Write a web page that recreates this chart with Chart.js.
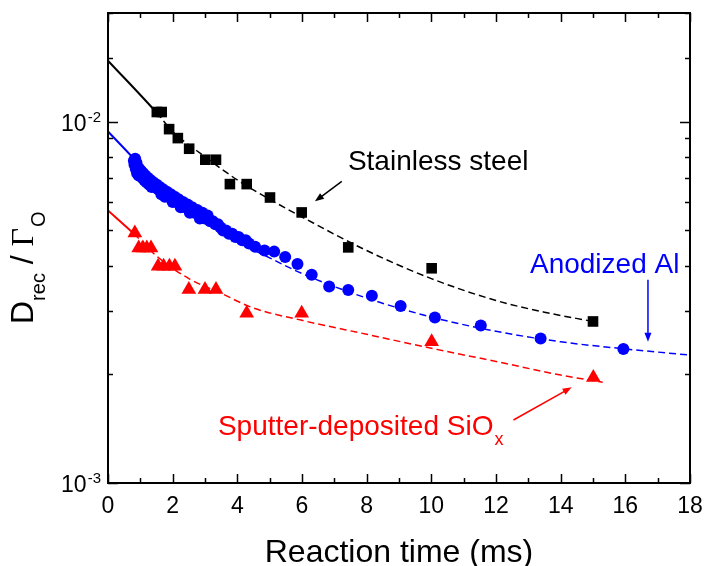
<!DOCTYPE html>
<html>
<head>
<meta charset="utf-8">
<script src="https://cdn.jsdelivr.net/npm/chart.js@4.4.1/dist/chart.umd.min.js"></script>
<style>
  html, body { margin: 0; padding: 0; background: #fff; }
  #wrap { width: 705px; height: 566px; }
</style>
</head>
<body>
<div id="wrap"><canvas id="graphCanvas" width="705" height="566"></canvas></div>
<script>
const ctx = document.getElementById('graphCanvas').getContext('2d');

// Stainless steel, measured points
const steelTime  = [1.51, 1.66, 1.89, 2.16, 2.51, 3.01, 3.34, 3.77, 4.29, 5.01, 5.99, 7.43, 10.01, 15.0];
const steelValue = [0.01064, 0.01064, 0.00954, 0.00901, 0.00842, 0.00785, 0.00785, 0.00672, 0.00672, 0.00617, 0.00561, 0.00449, 0.00393, 0.0028];

// Anodized Al, measured points (dense run first, then the sparse tail)
const alTime = [0.80, 0.82, 0.84, 0.86, 0.88, 0.90, 0.92, 0.95, 0.97, 1.00, 1.03, 1.06, 1.09, 1.12, 1.15,
  1.19, 1.23, 1.27, 1.31, 1.35, 1.40, 1.45, 1.50, 1.55, 1.60, 1.65, 1.70, 1.76, 1.82, 1.88,
  1.94, 2.00, 2.06, 2.12, 2.18, 2.25, 2.32, 2.39, 2.46, 2.53, 2.60, 2.68, 2.76, 2.84, 2.92,
  3.00, 3.08, 3.16, 3.24, 3.32, 3.40, 3.48, 3.56, 3.65, 3.74, 3.84, 3.94, 4.04, 4.15, 4.26, 4.36,
  4.55, 4.84, 5.14, 5.48, 5.86, 6.30, 6.84, 7.43, 8.16, 9.05, 10.11, 11.53, 13.38, 15.94];
const alValue = [0.0078, 0.0076, 0.0079, 0.0074, 0.0077, 0.0072, 0.0075, 0.0071, 0.0074, 0.0071, 0.0073, 0.0070, 0.0072, 0.0069, 0.0071,
  0.0068, 0.0070, 0.0067, 0.0069, 0.0066, 0.0068, 0.0066, 0.0067, 0.0065, 0.0066, 0.0063, 0.0065, 0.0062, 0.0064, 0.0062,
  0.0063, 0.0060, 0.0062, 0.0060, 0.0061, 0.0058, 0.0060, 0.0058, 0.0059, 0.0056, 0.0058, 0.0056, 0.0057, 0.0054, 0.0056,
  0.0054, 0.0055, 0.0053, 0.0053, 0.0052, 0.0052, 0.0051, 0.0050, 0.0050, 0.0049, 0.0049, 0.0048, 0.0048, 0.0047, 0.0047, 0.0046,
  0.00451, 0.0044, 0.00437, 0.00422, 0.00404, 0.00377, 0.0035, 0.00342, 0.0033, 0.00309, 0.00287, 0.00273, 0.00251, 0.00235];

// Sputter-deposited SiOx, measured points
const sioTime  = [0.83, 0.95, 1.08, 1.20, 1.33, 1.55, 1.72, 1.90, 2.07, 2.50, 3.00, 3.34, 4.29, 5.99, 10.01, 15.01];
const sioValue = [0.00492, 0.00447, 0.00447, 0.00447, 0.00447, 0.00398, 0.00398, 0.00398, 0.00398, 0.00343, 0.00343, 0.00343, 0.00295, 0.00295, 0.00246, 0.00196];

// fitted curves (first segment drawn solid, rest dashed)
const steelFitTime  = [0, 1.5, 2, 3, 4, 5, 6, 8, 10, 12, 13.5, 15];
const steelFitValue = [0.01476, 0.0106, 0.0094, 0.0080, 0.0069, 0.0061, 0.00545, 0.0044, 0.00368, 0.0032, 0.00297, 0.0028];
const alFitTime  = [0, 0.8, 1.5, 2, 3, 4, 5, 6, 8, 10, 12, 14, 16, 18];
const alFitValue = [0.0094, 0.0079, 0.0067, 0.0061, 0.0053, 0.00466, 0.0042, 0.0038, 0.00325, 0.00288, 0.00263, 0.00246, 0.00235, 0.00226];
const sioFitTime  = [0, 0.8, 1.5, 2.5, 3.5, 4.5, 6, 8, 10, 12, 14, 15.3];
const sioFitValue = [0.00568, 0.0049, 0.00425, 0.00368, 0.00335, 0.00305, 0.00282, 0.00258, 0.00236, 0.00217, 0.00199, 0.0019];

// axis range
const xMin = 0, xMax = 18;
const yMin = 0.001, yMax = 0.02;

// annotations in data coordinates
const noteLabels = [
  { text: 'Stainless steel', sub: '', at: [7.42, 0.00785], color: '#000000' },
  { text: 'Anodized Al', sub: '', at: [13.05, 0.00407], color: '#0000ff' },
  { text: 'Sputter-deposited SiO', sub: 'x', at: [3.40, 0.001447], color: '#ff0000' }
];
const noteArrows = [
  { from: [7.23, 0.00684], to: [6.40, 0.00602], color: '#000000' },
  { from: [16.7, 0.00365], to: [16.7, 0.00246], color: '#0000ff' },
  { from: [12.54, 0.001494], to: [14.34, 0.00184], color: '#ff0000' }
];

const SANS = '"Liberation Sans", Arial, sans-serif';
const SERIF = '"Liberation Serif", "Times New Roman", serif';

const pts = (xs, ys) => xs.map((x, i) => ({ x: x, y: ys[i] }));
const dashAfterFirst = c => c.p0DataIndex === 0 ? [] : [7, 4];
const widthAfterFirst = c => c.p0DataIndex === 0 ? 2 : 1.5;

function isDecade(v) {
  const l = Math.log10(v);
  return Math.abs(l - Math.round(l)) < 1e-6;
}

function arrow(c, x0, y0, x1, y1, color) {
  const ang = Math.atan2(y1 - y0, x1 - x0);
  const hl = 9, hw = 3.5;
  c.strokeStyle = color;
  c.fillStyle = color;
  c.lineWidth = 1.5;
  c.beginPath();
  c.moveTo(x0, y0);
  c.lineTo(x1 - Math.cos(ang) * hl * 0.8, y1 - Math.sin(ang) * hl * 0.8);
  c.stroke();
  c.beginPath();
  c.moveTo(x1, y1);
  c.lineTo(x1 - Math.cos(ang) * hl - Math.sin(ang) * hw, y1 - Math.sin(ang) * hl + Math.cos(ang) * hw);
  c.lineTo(x1 - Math.cos(ang) * hl + Math.sin(ang) * hw, y1 - Math.sin(ang) * hl - Math.cos(ang) * hw);
  c.closePath();
  c.fill();
}

const framePlugin = {
  id: 'frame',
  beforeDraw(chart) {
    const c = chart.ctx;
    c.save();
    c.fillStyle = '#fff';
    c.fillRect(0, 0, chart.width, chart.height);
    c.restore();
  },
  afterDraw(chart) {
    const c = chart.ctx;
    const a = chart.chartArea;
    const xs = chart.scales.x, ys = chart.scales.y;
    c.save();

    // box
    c.strokeStyle = '#000';
    c.lineWidth = 2;
    c.strokeRect(a.left, a.top, a.right - a.left, a.bottom - a.top);

    // inward ticks on all four sides
    c.lineWidth = 1.5;
    c.beginPath();
    xs.ticks.forEach(t => {
      const px = Math.round(xs.getPixelForValue(t.value)) + 0.5;
      const len = t.value % 2 === 0 ? 9 : 5;
      c.moveTo(px, a.bottom); c.lineTo(px, a.bottom - len);
      c.moveTo(px, a.top); c.lineTo(px, a.top + len);
    });
    ys.ticks.forEach(t => {
      const py = Math.round(ys.getPixelForValue(t.value)) + 0.5;
      const len = isDecade(t.value) ? 10 : 5;
      c.moveTo(a.left, py); c.lineTo(a.left + len, py);
      c.moveTo(a.right, py); c.lineTo(a.right - len, py);
    });
    c.stroke();

    // y tick labels 10^n
    c.fillStyle = '#000';
    c.textBaseline = 'alphabetic';
    ys.ticks.forEach(t => {
      if (!isDecade(t.value)) return;
      const py = ys.getPixelForValue(t.value);
      const sup = String(Math.round(Math.log10(t.value)));
      c.font = '15px ' + SANS;
      const sw = c.measureText(sup).width;
      c.textAlign = 'left';
      c.fillText(sup, a.left - 7 - sw, py);
      c.font = '23px ' + SANS;
      c.textAlign = 'right';
      c.fillText('10', a.left - 8 - sw, py + 9);
    });

    // y title: D_rec / Γ_O
    c.save();
    c.translate(33, 324);
    c.rotate(-Math.PI / 2);
    c.textAlign = 'left';
    let px = 0;
    c.font = '32px ' + SANS;
    c.fillText('D', px, 0); px += c.measureText('D').width;
    c.font = '20px ' + SANS;
    c.fillText('rec', px, 12); px += c.measureText('rec').width;
    c.font = '32px ' + SANS;
    c.fillText(' / ', px, 0); px += c.measureText(' / ').width;
    c.font = '32px ' + SERIF;
    c.fillText('\u0393', px, 0); px += c.measureText('\u0393').width;
    c.font = '20px ' + SANS;
    c.fillText('O', px + 1, 12);
    c.restore();

    // text annotations
    noteLabels.forEach(n => {
      const x = xs.getPixelForValue(n.at[0]);
      const y = ys.getPixelForValue(n.at[1]);
      c.fillStyle = n.color;
      c.textAlign = 'left';
      c.textBaseline = 'alphabetic';
      c.font = '28px ' + SANS;
      c.fillText(n.text, x, y + 10);
      if (n.sub) {
        const w = c.measureText(n.text).width;
        c.font = '18px ' + SANS;
        c.fillText(n.sub, x + w + 1, y + 20);
      }
    });

    // arrows
    noteArrows.forEach(r => {
      arrow(c,
        xs.getPixelForValue(r.from[0]), ys.getPixelForValue(r.from[1]),
        xs.getPixelForValue(r.to[0]), ys.getPixelForValue(r.to[1]), r.color);
    });

    c.restore();
  }
};

new Chart(ctx, {
  type: 'scatter',
  data: {
    datasets: [
      { data: pts(steelTime, steelValue), pointStyle: 'rect', pointRadius: 7.5, backgroundColor: '#000', borderWidth: 0, order: 0 },
      { data: pts(alTime, alValue), pointStyle: 'circle', pointRadius: 6, backgroundColor: '#0000ff', borderWidth: 0, order: 0 },
      { data: pts(sioTime, sioValue), pointStyle: 'triangle', pointRadius: 8.5, backgroundColor: '#ff0000', borderWidth: 0, order: 0 },
      { data: pts(steelFitTime, steelFitValue), showLine: true, pointRadius: 0, borderColor: '#000', borderWidth: 1.5,
        cubicInterpolationMode: 'monotone', segment: { borderDash: dashAfterFirst, borderWidth: widthAfterFirst }, order: 1 },
      { data: pts(alFitTime, alFitValue), showLine: true, pointRadius: 0, borderColor: '#0000ff', borderWidth: 1.5,
        cubicInterpolationMode: 'monotone', segment: { borderDash: dashAfterFirst, borderWidth: widthAfterFirst }, order: 1 },
      { data: pts(sioFitTime, sioFitValue), showLine: true, pointRadius: 0, borderColor: '#ff0000', borderWidth: 1.5,
        cubicInterpolationMode: 'monotone', segment: { borderDash: dashAfterFirst, borderWidth: widthAfterFirst }, order: 1 }
    ]
  },
  options: {
    responsive: false,
    animation: false,
    devicePixelRatio: 1,
    layout: { padding: { left: 0, right: 15, top: 13, bottom: 0 } },
    plugins: { legend: { display: false }, tooltip: { enabled: false } },
    scales: {
      x: {
        type: 'linear',
        min: xMin,
        max: xMax,
        grid: { display: false, drawTicks: false },
        border: { display: false },
        ticks: {
          stepSize: 1,
          autoSkip: false,
          maxRotation: 0,
          padding: 10,
          color: '#000',
          font: { family: SANS, size: 23 },
          callback: v => (v % 2 === 0 ? String(v) : '')
        },
        title: {
          display: true,
          text: 'Reaction time (ms)',
          color: '#000',
          padding: 0,
          font: { family: SANS, size: 32, lineHeight: 0.8 }
        },
        afterFit: s => { s.height = 83; s.paddingLeft = 0; s.paddingRight = 0; }
      },
      y: {
        type: 'logarithmic',
        min: yMin,
        max: yMax,
        grid: { display: false, drawTicks: false },
        border: { display: false },
        ticks: { display: false },
        afterFit: s => { s.width = 108; s.paddingTop = 0; s.paddingBottom = 0; }
      }
    }
  },
  plugins: [framePlugin]
});
</script>
</body>
</html>
